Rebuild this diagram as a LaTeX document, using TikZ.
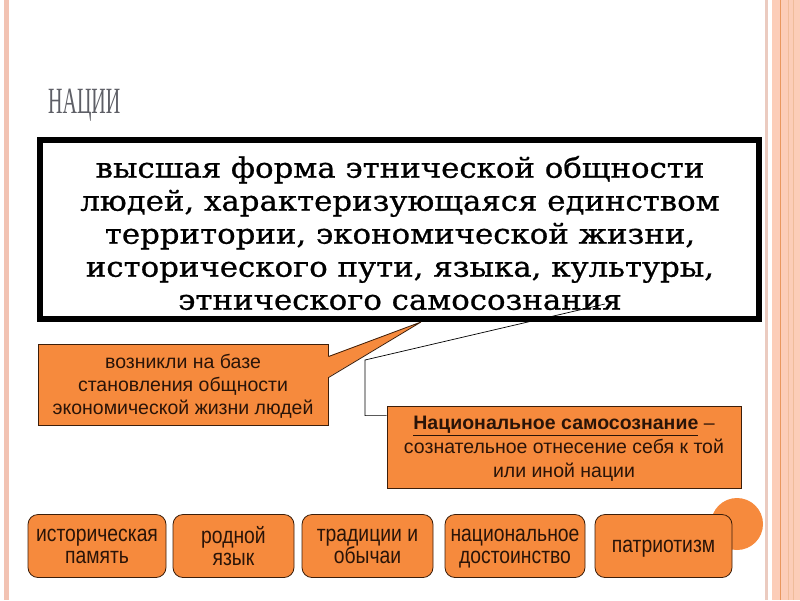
\documentclass[tikz,border=0pt]{standalone}
\usepackage{fontspec}
\setmainfont{Liberation Sans}
\newfontfamily\boxserif[FakeStretch=1.1,FakeBold=0.8]{DejaVu Serif}
\newfontfamily\titlefont[FakeStretch=0.54]{Liberation Serif}
\newfontfamily\narrowfont[FakeStretch=0.84]{Liberation Sans}
\definecolor{orfill}{HTML}{F68A3D}
\definecolor{orline}{HTML}{3C1E0A}
\definecolor{txtdark}{HTML}{2A1408}
\definecolor{stripeL}{HTML}{F2C3B3}
\definecolor{stripeR}{HTML}{FCCDB8}
\definecolor{stripeT}{HTML}{EBCBC0}
\definecolor{stripeO}{HTML}{E9975E}
\definecolor{titlegray}{HTML}{5E5F66}
\begin{document}
\begin{tikzpicture}[x=1pt,y=-1pt,
  orbox/.style={draw=orline,line width=0.8pt,fill=orfill,text=txtdark,
    align=center,inner sep=0pt,text depth=0pt},
  itembox/.style={orbox,rounded corners=10pt,minimum height=63pt,
    font=\narrowfont\fontsize{23}{22}\selectfont},
  conn/.style={draw=black,line width=0.7pt}]
\useasboundingbox (0,0) rectangle (800,600);
\fill[white] (0,0) rectangle (800,600);
% frame stripes
\fill[stripeL] (4,0) rectangle (9,600);
\fill[stripeT] (765,0) rectangle (768,600);
\fill[stripeR] (772,0) rectangle (800,600);
\draw[stripeO,line width=1pt] (780,0) -- (780,600);
\draw[stripeT!80!orange,line width=0.6pt] (788,0) -- (788,600);
\draw[stripeT!80!orange,line width=0.6pt] (793,0) -- (793,600);
% title
\node[anchor=base west,inner sep=0pt,text=titlegray,
  font=\titlefont\fontsize{37}{37}\selectfont] (title) at (48,113) {НАЦИИ};
% main definition box
\node[draw=black,line width=6pt,minimum width=719pt,minimum height=179pt,
  inner sep=0pt] (def) at (399.5,229.5) {};
\node[align=center,inner sep=0pt,font=\boxserif\fontsize{28}{33}\selectfont]
  (deftext) at (400,233) {высшая форма этнической общности\\
людей, характеризующаяся единством\\
территории, экономической жизни,\\
исторического пути, языка, культуры,\\
этнического самосознания};
% decorative circle
\fill[orfill] (737,524) circle (26);
% callout 1
\node[orbox,minimum width=290pt,minimum height=81pt,
  font=\fontsize{19.5}{23}\selectfont] (call1) at (183,384.5)
  {возникли на базе\\ становления общности\\ экономической жизни людей};
\coordinate (tip1) at (421,322);
\fill[orfill] ([yshift=-13pt,xshift=-1pt]call1.north east) -- (tip1)
  -- ([yshift=-34pt,xshift=-1pt]call1.north east) -- cycle;
\draw[orline,line width=0.8pt] ([yshift=-13pt]call1.north east) -- (tip1)
  -- ([yshift=-34pt]call1.north east);
% callout 2
\node[orbox,minimum width=354pt,minimum height=82pt,
  font=\fontsize{19.5}{24}\selectfont] (call2) at (564,447)
  {\underline{\textbf{Национальное самосознание}} –\\
   сознательное отнесение себя к той\\ или иной нации};
\coordinate (tip2) at (605,304);
\coordinate (bend2) at (365,360);
\draw[conn] ([yshift=-10pt]call2.north west) -| (bend2) -- (tip2);
% bottom items
\node[itembox,minimum width=138pt] (i1) at (97,546) {историческая\\ память};
\node[itembox,minimum width=121pt] (i2) at (233.5,546) {родной\\ язык};
\node[itembox,minimum width=131pt] (i3) at (367.5,546) {традиции и\\ обычаи};
\node[itembox,minimum width=140pt] (i4) at (515,546) {национальное\\ достоинство};
\node[itembox,minimum width=137pt] (i5) at (663.5,546) {патриотизм};
\end{tikzpicture}
\end{document}
